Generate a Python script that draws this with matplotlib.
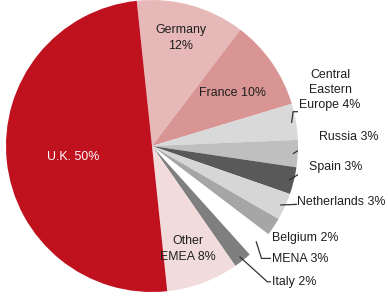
import numpy as np
import matplotlib.pyplot as plt

plt.rcParams['font.family'] = ['Liberation Sans', 'DejaVu Sans']

# data, clockwise from the top
regions = ['Germany', 'France', 'Central\nEastern\nEurope', 'Russia', 'Spain',
           'Netherlands', 'Belgium', 'MENA', 'Italy', 'Other\nEMEA', 'U.K.']
shares = [12, 10, 4, 3, 3, 3, 2, 3, 2, 8, 50]
colors = ['#E6B9B8', '#D99594', '#D9D9D9', '#BFBFBF', '#595959',
          '#D6D6D6', '#A6A6A6', '#FFFFFF', '#7F7F7F', '#F2DCDB', '#C0111F']

# label layout (data coords) - inside labels
inside = {'Germany': (0.199, 0.74), 'France': (0.548, 0.363),
          'Other\nEMEA': (0.247, -0.705), 'U.K.': (-0.541, -0.075)}
# outside labels: (text x left, text y, elbow x, elbow y)
outside = {'Central\nEastern\nEurope': (1.22, 0.385, None, None),
           'Russia': (1.145, 0.062, 1.12, 0.04),
           'Spain': (1.075, -0.145, 1.06, -0.16),
           'Netherlands': (0.995, -0.385, 0.99, -0.40),
           'Belgium': (0.82, -0.63, None, None),
           'MENA': (0.82, -0.774, 0.75, -0.77),
           'Italy': (0.82, -0.93, 0.79, -0.93)}

fig = plt.figure(figsize=(3.88, 2.96), dpi=100)
ax = fig.add_axes([6/388, 4/296, 292/388, 292/296])

start = 96
wedges, _ = ax.pie(shares, colors=colors, startangle=start, counterclock=False,
                   radius=1, wedgeprops=dict(linewidth=0))
ax.set_xlim(-1, 1)
ax.set_ylim(-1, 1)
ax.set_aspect('equal')
ax.axis('off')

fs = 8.9
txt = '#1f1f1f'
lc = '#333333'
cum = np.cumsum([0] + shares)
for i, name in enumerate(regions):
    lab = name + ' %d%%' % shares[i] if not name.startswith('Germany') else name + '\n%d%%' % shares[i]
    if name in inside:
        x, y = inside[name]
        ax.text(x, y, lab, ha='center', va='center', fontsize=fs,
                color='white' if name == 'U.K.' else txt, linespacing=1.35)
    else:
        tx, ty, ex, ey = outside[name]
        mid = np.deg2rad(start - 3.6 * (cum[i] + cum[i + 1]) / 2)
        px, py = 0.97 * np.cos(mid), 0.97 * np.sin(mid)
        if name.startswith('Central'):
            ax.text(tx, ty, lab, ha='center', va='center', fontsize=fs,
                    color=txt, linespacing=1.35, multialignment='center')
            ax.plot([px, px + 0.01, px + 0.05], [py, 0.235, 0.235], color=lc, lw=0.9)
        elif name == 'Belgium':
            ax.text(tx, ty, lab, ha='left', va='center', fontsize=fs, color=txt)
        else:
            ax.text(tx, ty, lab, ha='left', va='center', fontsize=fs, color=txt)
            ax.plot([px, ex, tx - 0.01], [py, ey, ey], color=lc, lw=0.9)

fig.savefig('out.png', dpi=100)
